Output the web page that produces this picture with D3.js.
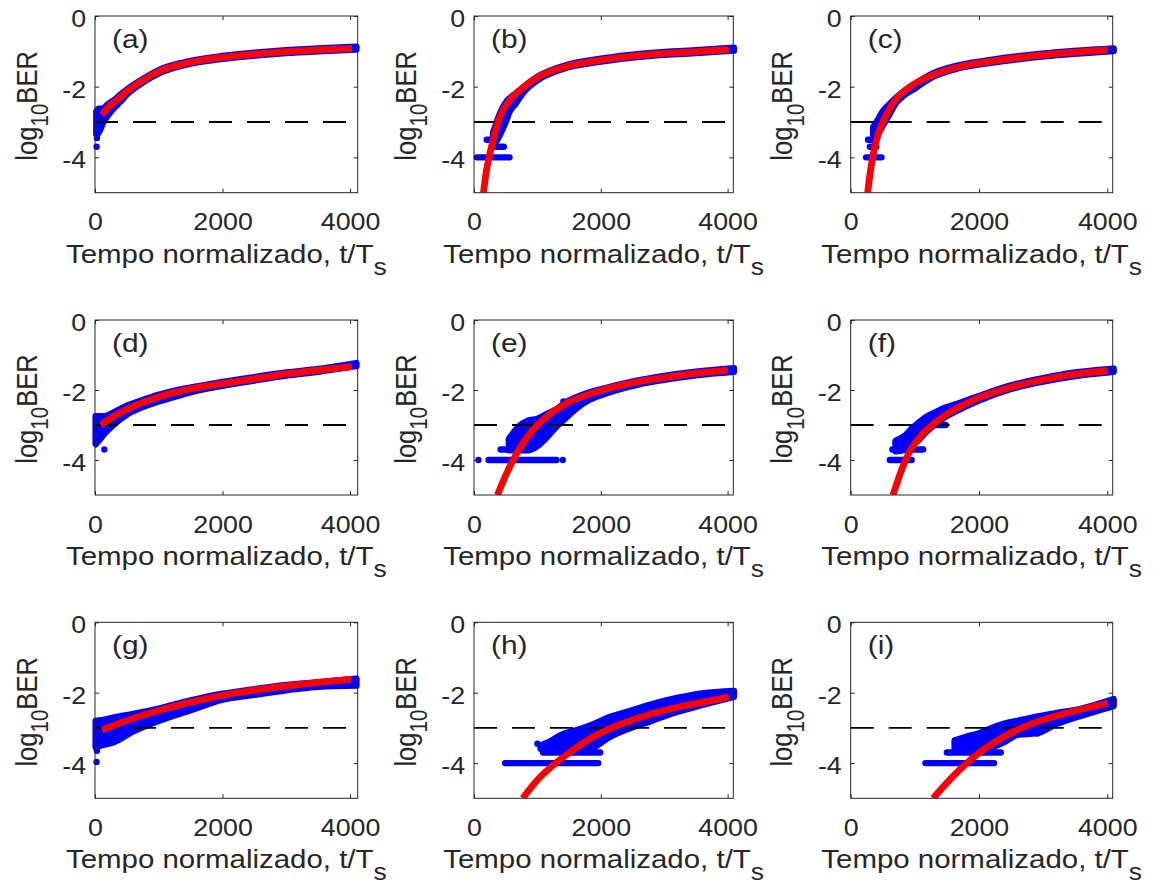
<!DOCTYPE html>
<html lang="en">
<head>
<meta charset="UTF-8">
<title>log10 BER x tempo normalizado</title>
<script src="https://d3js.org/d3.v7.min.js"></script>
<style>
    body { margin: 0; background: #fff; }
    text { font-family: "Liberation Sans", Arial, Helvetica, sans-serif; fill: #262626; }
</style>
</head>
<body>
<script>
    // ---- data (x = t/Ts, y = log10 BER) ----
    var panelLabels = ["(a)", "(b)", "(c)", "(d)", "(e)", "(f)", "(g)", "(h)", "(i)"];
    var xLimits = [4120, 4090, 4085, 4120, 4090, 4085, 4120, 4090, 4085];
    var xTicks = [0, 2000, 4000];
    var yTicks = [0, -2, -4];
    var yLimits = [-5, 0];
    var threshold = [[0, -3], [4000, -3]];

    // red fitted curves
    var fitA = [[110,-2.8],[200,-2.6],[350,-2.37],[500,-2.13],[700,-1.88],[1000,-1.57],[1400,-1.35],[2000,-1.17],[2500,-1.08],[3000,-1.01],[3500,-0.96],[4030,-0.92]];
    var fitB = [[150,-5],[190,-4.45],[250,-3.9],[330,-3.32],[410,-2.85],[570,-2.38],[780,-2.02],[1040,-1.7],[1460,-1.43],[2000,-1.25],[2700,-1.1],[3500,-1.01],[4020,-0.95]];
    var fitC = [[265,-5],[303,-4.45],[355,-3.89],[433,-3.32],[540,-2.85],[695,-2.38],[930,-2.0],[1240,-1.7],[1710,-1.43],[2235,-1.27],[3020,-1.1],[4010,-0.96]];
    var fitD = [[90,-3.0],[300,-2.75],[600,-2.47],[1000,-2.2],[1500,-1.97],[2000,-1.82],[2500,-1.68],[3000,-1.54],[3500,-1.43],[4030,-1.33]];
    var fitE = [[370,-5],[515,-4.38],[675,-3.81],[885,-3.24],[1150,-2.76],[1465,-2.38],[1940,-2.05],[2460,-1.81],[2990,-1.65],[3515,-1.52],[4005,-1.43]];
    var fitF = [[660,-5],[775,-4.38],[905,-3.81],[1085,-3.33],[1295,-2.97],[1610,-2.57],[1975,-2.24],[2500,-1.92],[3020,-1.7],[3540,-1.54],[4010,-1.45]];
    var fitG = [[110,-3.06],[600,-2.73],[1130,-2.44],[1650,-2.21],[2180,-2.02],[2700,-1.88],[3230,-1.76],[4020,-1.62]];
    var fitH = [[770,-5],[990,-4.5],[1250,-4.06],[1570,-3.62],[1880,-3.26],[2200,-2.98],[2730,-2.64],[3250,-2.4],[3780,-2.21],[4020,-2.12]];
    var fitI = [[1285,-5],[1500,-4.56],[1715,-4.16],[1975,-3.75],[2235,-3.42],[2550,-3.1],[2800,-2.9],[3100,-2.72],[3540,-2.5],[4010,-2.3]];

    // blue measured cloud: [x, upper edge, lower edge]
    var bandA = [[20,-2.7,-3.35],[60,-2.62,-3.3],[120,-2.62,-3.05],[200,-2.5,-2.82],[300,-2.38,-2.6],[400,-2.22,-2.42],[500,-2.08,-2.22],[700,-1.84,-1.94],[1000,-1.53,-1.62],[1400,-1.31,-1.39],[2000,-1.13,-1.21],[2500,-1.04,-1.12],[3000,-0.97,-1.05],[3500,-0.92,-1.0],[4100,-0.87,-0.95]];
    var bandB = [[300,-3.3,-3.6],[350,-3.05,-3.55],[400,-2.8,-3.4],[450,-2.6,-3.2],[500,-2.45,-3.0],[550,-2.35,-2.75],[650,-2.2,-2.5],[800,-1.98,-2.12],[1000,-1.72,-1.82],[1400,-1.42,-1.5],[2000,-1.21,-1.29],[2700,-1.06,-1.14],[3500,-0.97,-1.05],[4100,-0.9,-0.98]];
    var bandC = [[350,-3.15,-3.4],[420,-2.95,-3.35],[500,-2.7,-3.1],[600,-2.5,-2.8],[700,-2.32,-2.48],[850,-2.1,-2.22],[1000,-1.92,-2.05],[1250,-1.65,-1.75],[1700,-1.39,-1.47],[2235,-1.23,-1.31],[3020,-1.06,-1.14],[4100,-0.92,-0.99]];
    var bandD = [[10,-2.75,-3.55],[60,-2.75,-3.45],[150,-2.75,-3.25],[300,-2.63,-2.98],[500,-2.45,-2.7],[800,-2.25,-2.45],[1200,-2.04,-2.22],[1600,-1.9,-2.02],[2000,-1.77,-1.88],[2500,-1.63,-1.73],[3000,-1.5,-1.59],[3500,-1.4,-1.48],[4100,-1.23,-1.32]];
    var bandE = [[550,-3.4,-3.72],[700,-3.05,-3.72],[850,-2.88,-3.72],[1000,-2.82,-3.6],[1150,-2.68,-3.35],[1300,-2.55,-3.05],[1450,-2.35,-2.8],[1600,-2.22,-2.55],[1800,-2.08,-2.3],[2000,-1.98,-2.15],[2500,-1.76,-1.88],[3000,-1.6,-1.71],[3500,-1.48,-1.58],[4100,-1.38,-1.48]];
    var bandF = [[700,-3.45,-3.75],[850,-3.3,-3.7],[950,-3.1,-3.55],[1050,-2.95,-3.45],[1150,-2.8,-3.25],[1300,-2.65,-3.0],[1450,-2.52,-2.8],[1650,-2.4,-2.6],[2000,-2.17,-2.3],[2500,-1.87,-1.97],[3000,-1.66,-1.76],[3500,-1.5,-1.6],[4100,-1.39,-1.48]];
    var bandG = [[10,-2.8,-3.55],[100,-2.78,-3.5],[300,-2.7,-3.4],[600,-2.6,-3.1],[1000,-2.45,-2.8],[1500,-2.22,-2.5],[2000,-2.03,-2.2],[2500,-1.9,-2.06],[3000,-1.78,-1.93],[3500,-1.7,-1.83],[4100,-1.6,-1.8]];
    var bandH = [[1050,-3.5,-3.6],[1200,-3.38,-3.65],[1400,-3.18,-3.65],[1650,-3.05,-3.65],[1900,-2.88,-3.55],[2100,-2.72,-3.3],[2400,-2.55,-3.05],[2800,-2.33,-2.8],[3200,-2.15,-2.55],[3600,-2.02,-2.35],[4100,-1.95,-2.12]];
    var bandI = [[1620,-3.35,-3.6],[1800,-3.25,-3.65],[2000,-3.15,-3.6],[2200,-3.0,-3.55],[2400,-2.88,-3.4],[2600,-2.8,-3.2],[2900,-2.68,-3.15],[3200,-2.58,-2.9],[3600,-2.45,-2.65],[4100,-2.18,-2.38]];

    // quantised rows of blue points: [y, x from, x to]
    var rowsA = [];
    var rowsB = [[-4, 45, 560], [-3.7, 330, 470], [-3.5, 200, 260]];
    var rowsC = [[-4, 240, 480], [-3.7, 300, 400], [-3.5, 270, 380]];
    var rowsD = [];
    var rowsE = [[-4, 230, 1300], [-3.7, 420, 830]];
    var rowsF = [[-4, 610, 950], [-3.7, 650, 1130], [-3.5, 700, 850], [-3, 1050, 1480]];
    var rowsG = [];
    var rowsH = [[-4, 490, 1960], [-3.7, 1090, 1990]];
    var rowsI = [[-4, 1165, 2235], [-3.7, 1500, 2340]];

    // isolated blue points
    var dotsA = [[25, -3.7], [30, -3.45]];
    var dotsB = [];
    var dotsC = [];
    var dotsD = [[147, -3.7]];
    var dotsE = [[70, -4], [1400, -4], [1410, -2.33]];
    var dotsF = [];
    var dotsG = [[30, -3.65], [25, -3.97]];
    var dotsH = [[1000, -3.45]];
    var dotsI = [[2910, -3.16]];

    var fits = [fitA, fitB, fitC, fitD, fitE, fitF, fitG, fitH, fitI];
    var bands = [bandA, bandB, bandC, bandD, bandE, bandF, bandG, bandH, bandI];
    var rows = [rowsA, rowsB, rowsC, rowsD, rowsE, rowsF, rowsG, rowsH, rowsI];
    var dots = [dotsA, dotsB, dotsC, dotsD, dotsE, dotsF, dotsG, dotsH, dotsI];

    // ---- layout ----
    var colLeft = [95, 474, 850.7],
        colRight = [357.7, 733.3, 1112.7],
        rowTop = [16, 320, 622.3],
        rowBottom = [192.7, 495, 798.3];
    var stretch = 1.15;      // the figure is a bit wider than tall
    var axisColor = "#262626";
    var blue = "#0000ff", red = "#ff0000";
    var dotR = 3.2;

    var svg = d3.select("body")
        .append("svg")
        .attr("width", 1153)
        .attr("height", 888);

    svg.append("rect").attr("width", 1153).attr("height", 888).attr("fill", "#fff");

    for (var i = 0; i < panelLabels.length; i++) {
        drawPanel(i);
    }

    function drawPanel(i) {
        var col = i % 3, row = Math.floor(i / 3);
        var w = colRight[col] - colLeft[col],
            h = rowBottom[row] - rowTop[row];

        var g = svg.append("g")
            .attr("transform", "translate(" + colLeft[col] + "," + rowTop[row] + ")");

        var x = d3.scaleLinear().domain([0, xLimits[i]]).range([0, w]);
        var y = d3.scaleLinear().domain(yLimits).range([h, 0]);

        g.append("clipPath")
            .attr("id", "clip" + i)
            .append("rect")
            .attr("x", -10).attr("y", 0)
            .attr("width", w + 20).attr("height", h);

        // blue cloud
        var area = d3.area()
            .x(function (d) { return x(d[0]); })
            .y0(function (d) { return y(d[2]); })
            .y1(function (d) { return y(d[1]); })
            .curve(d3.curveMonotoneX);

        g.append("path")
            .datum(bands[i])
            .attr("d", area)
            .attr("fill", blue)
            .attr("stroke", blue)
            .attr("stroke-width", dotR * 2)
            .attr("stroke-linejoin", "round");

        g.selectAll(".row")
            .data(rows[i])
            .enter().append("line")
            .attr("class", "row")
            .attr("x1", function (d) { return x(d[1]); })
            .attr("x2", function (d) { return x(d[2]); })
            .attr("y1", function (d) { return y(d[0]); })
            .attr("y2", function (d) { return y(d[0]); })
            .attr("stroke", blue)
            .attr("stroke-width", dotR * 2)
            .attr("stroke-linecap", "round");

        g.selectAll(".dot")
            .data(dots[i])
            .enter().append("circle")
            .attr("class", "dot")
            .attr("cx", function (d) { return x(d[0]); })
            .attr("cy", function (d) { return y(d[1]); })
            .attr("r", dotR)
            .attr("fill", blue);

        // dashed threshold
        var line = d3.line()
            .x(function (d) { return x(d[0]); })
            .y(function (d) { return y(d[1]); });

        g.append("path")
            .datum(threshold)
            .attr("d", line)
            .attr("fill", "none")
            .attr("stroke", "#000")
            .attr("stroke-width", 1.8)
            .attr("stroke-dasharray", "23,15");

        // red fit
        g.append("path")
            .datum(fits[i])
            .attr("d", line.curve(d3.curveMonotoneX))
            .attr("clip-path", "url(#clip" + i + ")")
            .attr("fill", "none")
            .attr("stroke", red)
            .attr("stroke-width", 6.8);

        // axes, ticks pointing inwards on all four sides
        var plain = function (d) { return String(d); };
        g.append("g")
            .attr("transform", "translate(0," + h + ")")
            .call(d3.axisBottom(x).tickValues(xTicks).tickSizeInner(-4).tickSizeOuter(0).tickPadding(21).tickFormat(plain))
            .call(styleAxis);
        g.append("g")
            .call(d3.axisTop(x).tickValues(xTicks).tickSizeInner(-4).tickSizeOuter(0).tickFormat(""))
            .call(styleAxis);
        g.append("g")
            .call(d3.axisLeft(y).tickValues(yTicks).tickSizeInner(-4).tickSizeOuter(0).tickPadding(7.8).tickFormat(plain))
            .call(styleAxis)
            .selectAll("text").attr("dy", "0.45em");
        g.append("g")
            .attr("transform", "translate(" + w + ",0)")
            .call(d3.axisRight(y).tickValues(yTicks).tickSizeInner(-4).tickSizeOuter(0).tickFormat(""))
            .call(styleAxis);

        g.append("rect")
            .attr("width", w).attr("height", h)
            .attr("fill", "none")
            .attr("stroke", axisColor)
            .attr("stroke-width", 1);

        // panel letter
        g.append("text")
            .attr("transform", "translate(17,32) scale(" + stretch + ",1)")
            .style("font-size", "26px")
            .text(panelLabels[i]);

        // x label
        var xl = g.append("text")
            .attr("transform", "translate(" + (w / 2) + "," + (h + 70) + ") scale(" + stretch + ",1)")
            .attr("text-anchor", "middle")
            .style("font-size", "25.6px");
        xl.append("tspan").text("Tempo normalizado, t/T");
        xl.append("tspan").attr("dy", 12).style("font-size", "23px").text("s");

        // y label
        var yl = g.append("text")
            .attr("transform", "translate(-58.3," + (h / 2 + 1.5) + ") scale(" + stretch + ",1) rotate(-90)")
            .attr("text-anchor", "middle")
            .style("font-size", "25.6px");
        yl.append("tspan").text("log");
        yl.append("tspan").attr("dy", 10).style("font-size", "20.5px").text("10");
        yl.append("tspan").attr("dy", -10).text("BER");
    }

    function styleAxis(a) {
        a.attr("color", axisColor).attr("font-size", null).attr("font-family", null);
        a.select(".domain").remove();
        a.selectAll("text")
            .attr("transform", "scale(" + stretch + ",1)")
            .style("font-size", "23.3px");
    }
</script>
</body>
</html>
